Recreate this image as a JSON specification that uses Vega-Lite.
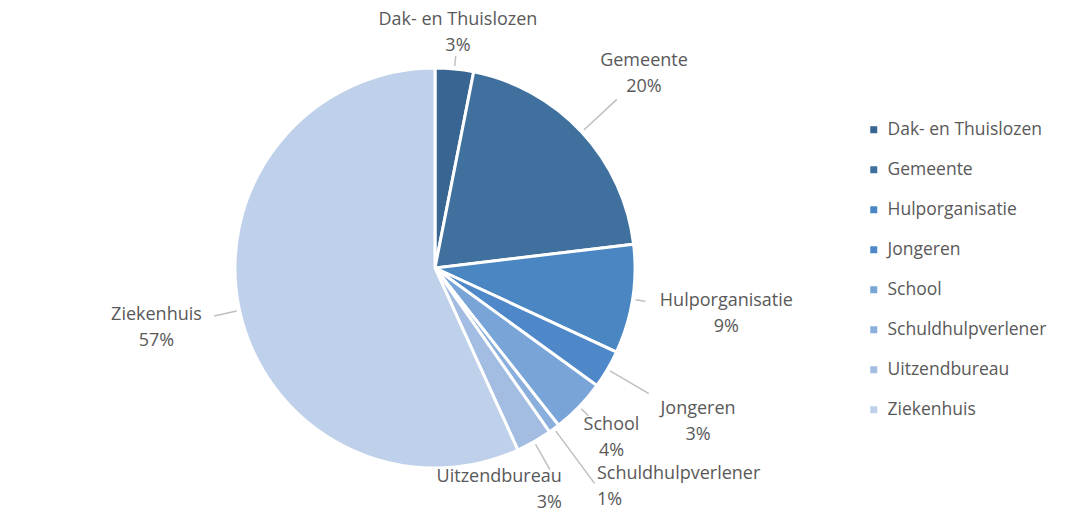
{
  "$schema": "https://vega.github.io/schema/vega-lite/v6.json",
  "width": 848,
  "height": 498,
  "autosize": {"type": "none"},
  "padding": {"left": 11, "top": 19, "right": 206, "bottom": 0},
  "background": "white",
  "config": {"view": {"stroke": null}, "font": "Open Sans", "text": {"fontSize": 18, "fill": "#595959", "baseline": "middle", "lineHeight": 26, "dy": -13}},
  "data": {
    "values": [
      {"category": "Dak- en Thuislozen", "value": 0.031},
      {"category": "Gemeente", "value": 0.200},
      {"category": "Hulporganisatie", "value": 0.088},
      {"category": "Jongeren", "value": 0.031},
      {"category": "School", "value": 0.044},
      {"category": "Schuldhulpverlener", "value": 0.009},
      {"category": "Uitzendbureau", "value": 0.029},
      {"category": "Ziekenhuis", "value": 0.568}
    ]
  },
  "transform": [
    {"stack": "value", "groupby": [], "sort": [{"field": "category", "order": "ascending"}], "as": ["v0", "v1"]},
    {"calculate": "(datum.v0 + datum.v1) / 2", "as": "mid"},
    {"calculate": "[datum.category, format(datum.value, '.0%')]", "as": "label"}
  ],
  "layer": [
    {
      "mark": {"type": "arc", "outerRadius": 200, "stroke": "white", "strokeWidth": 3},
      "encoding": {
        "theta": {"field": "v0", "type": "quantitative", "scale": {"domain": [0, 1]}},
        "theta2": {"field": "v1"},
        "color": {
          "field": "category",
          "type": "nominal",
          "scale": {
            "domain": ["Dak- en Thuislozen", "Gemeente", "Hulporganisatie", "Jongeren", "School", "Schuldhulpverlener", "Uitzendbureau", "Ziekenhuis"],
            "range": ["#386592", "#40709e", "#4a86c2", "#4f88c8", "#78a4d8", "#8aafdc", "#a3bde2", "#bed0ea"]
          },
          "legend": {
            "title": null,
            "orient": "none",
            "legendX": 854,
            "legendY": 102,
            "padding": 0,
            "symbolType": "square",
            "symbolSize": 49,
            "symbolStrokeWidth": 0,
            "labelFontSize": 17.5,
            "labelColor": "#595959",
            "labelFont": "Open Sans",
            "labelOffset": 5,
            "rowPadding": 21,
            "labelLimit": 300
          }
        }
      }
    },
    {
      "transform": [{"filter": "indexof(['Dak- en Thuislozen','Hulporganisatie','School'], datum.category) >= 0"}],
      "mark": {"type": "arc", "innerRadius": 203, "outerRadius": 213, "stroke": "#bfbfbf", "strokeWidth": 1.5, "fill": null},
      "encoding": {"theta": {"field": "mid", "type": "quantitative"}, "theta2": {"field": "mid"}}
    },
    {
      "transform": [{"filter": "indexof(['Gemeente','Jongeren'], datum.category) >= 0"}],
      "mark": {"type": "arc", "innerRadius": 203, "outerRadius": 248, "stroke": "#bfbfbf", "strokeWidth": 1.5, "fill": null},
      "encoding": {"theta": {"field": "mid", "type": "quantitative"}, "theta2": {"field": "mid"}}
    },
    {
      "transform": [{"filter": "datum.category === 'Uitzendbureau'"}],
      "mark": {"type": "arc", "innerRadius": 203, "outerRadius": 232, "stroke": "#bfbfbf", "strokeWidth": 1.5, "fill": null},
      "encoding": {"theta": {"field": "mid", "type": "quantitative"}, "theta2": {"field": "mid"}}
    },
    {
      "transform": [{"filter": "datum.category === 'Ziekenhuis'"}],
      "mark": {"type": "arc", "innerRadius": 203, "outerRadius": 226, "stroke": "#bfbfbf", "strokeWidth": 1.5, "fill": null},
      "encoding": {"theta": {"field": "mid", "type": "quantitative"}, "theta2": {"field": "mid"}}
    },
    {
      "transform": [{"filter": "datum.category === 'Schuldhulpverlener'"}],
      "mark": {"type": "arc", "innerRadius": 203, "outerRadius": 268, "stroke": "#bfbfbf", "strokeWidth": 1.5, "fill": null},
      "encoding": {"theta": {"field": "mid", "type": "quantitative"}, "theta2": {"field": "mid"}}
    },
    {
      "transform": [{"filter": "indexof(['Gemeente','Ziekenhuis'], datum.category) >= 0"}],
      "mark": {"type": "text", "radius": 285, "align": "center"},
      "encoding": {"theta": {"field": "mid", "type": "quantitative"}, "text": {"field": "label"}}
    },
    {
      "transform": [{"filter": "datum.category === 'Hulporganisatie'"}],
      "mark": {"type": "text", "radius": 295, "align": "center"},
      "encoding": {"theta": {"field": "mid", "type": "quantitative"}, "text": {"field": "label"}}
    },
    {
      "transform": [{"filter": "datum.category === 'Dak- en Thuislozen'"}],
      "mark": {"type": "text", "radius": 236, "align": "center"},
      "encoding": {"theta": {"field": "mid", "type": "quantitative"}, "text": {"field": "label"}}
    },
    {
      "transform": [{"filter": "datum.category === 'Jongeren'"}],
      "mark": {"type": "text", "radius": 305, "align": "center"},
      "encoding": {"theta": {"field": "mid", "type": "quantitative"}, "text": {"field": "label"}}
    },
    {
      "transform": [{"filter": "datum.category === 'School'"}],
      "mark": {"type": "text", "radius": 245, "align": "center"},
      "encoding": {"theta": {"field": "mid", "type": "quantitative"}, "text": {"field": "label"}}
    },
    {
      "transform": [{"filter": "datum.category === 'Schuldhulpverlener'"}],
      "mark": {"type": "text", "radius": 272, "align": "left"},
      "encoding": {"theta": {"field": "mid", "type": "quantitative"}, "text": {"field": "label"}}
    },
    {
      "transform": [{"filter": "datum.category === 'Uitzendbureau'"}],
      "mark": {"type": "text", "radius": 256, "align": "right"},
      "encoding": {"theta": {"field": "mid", "type": "quantitative"}, "text": {"field": "label"}}
    }
  ]
}
